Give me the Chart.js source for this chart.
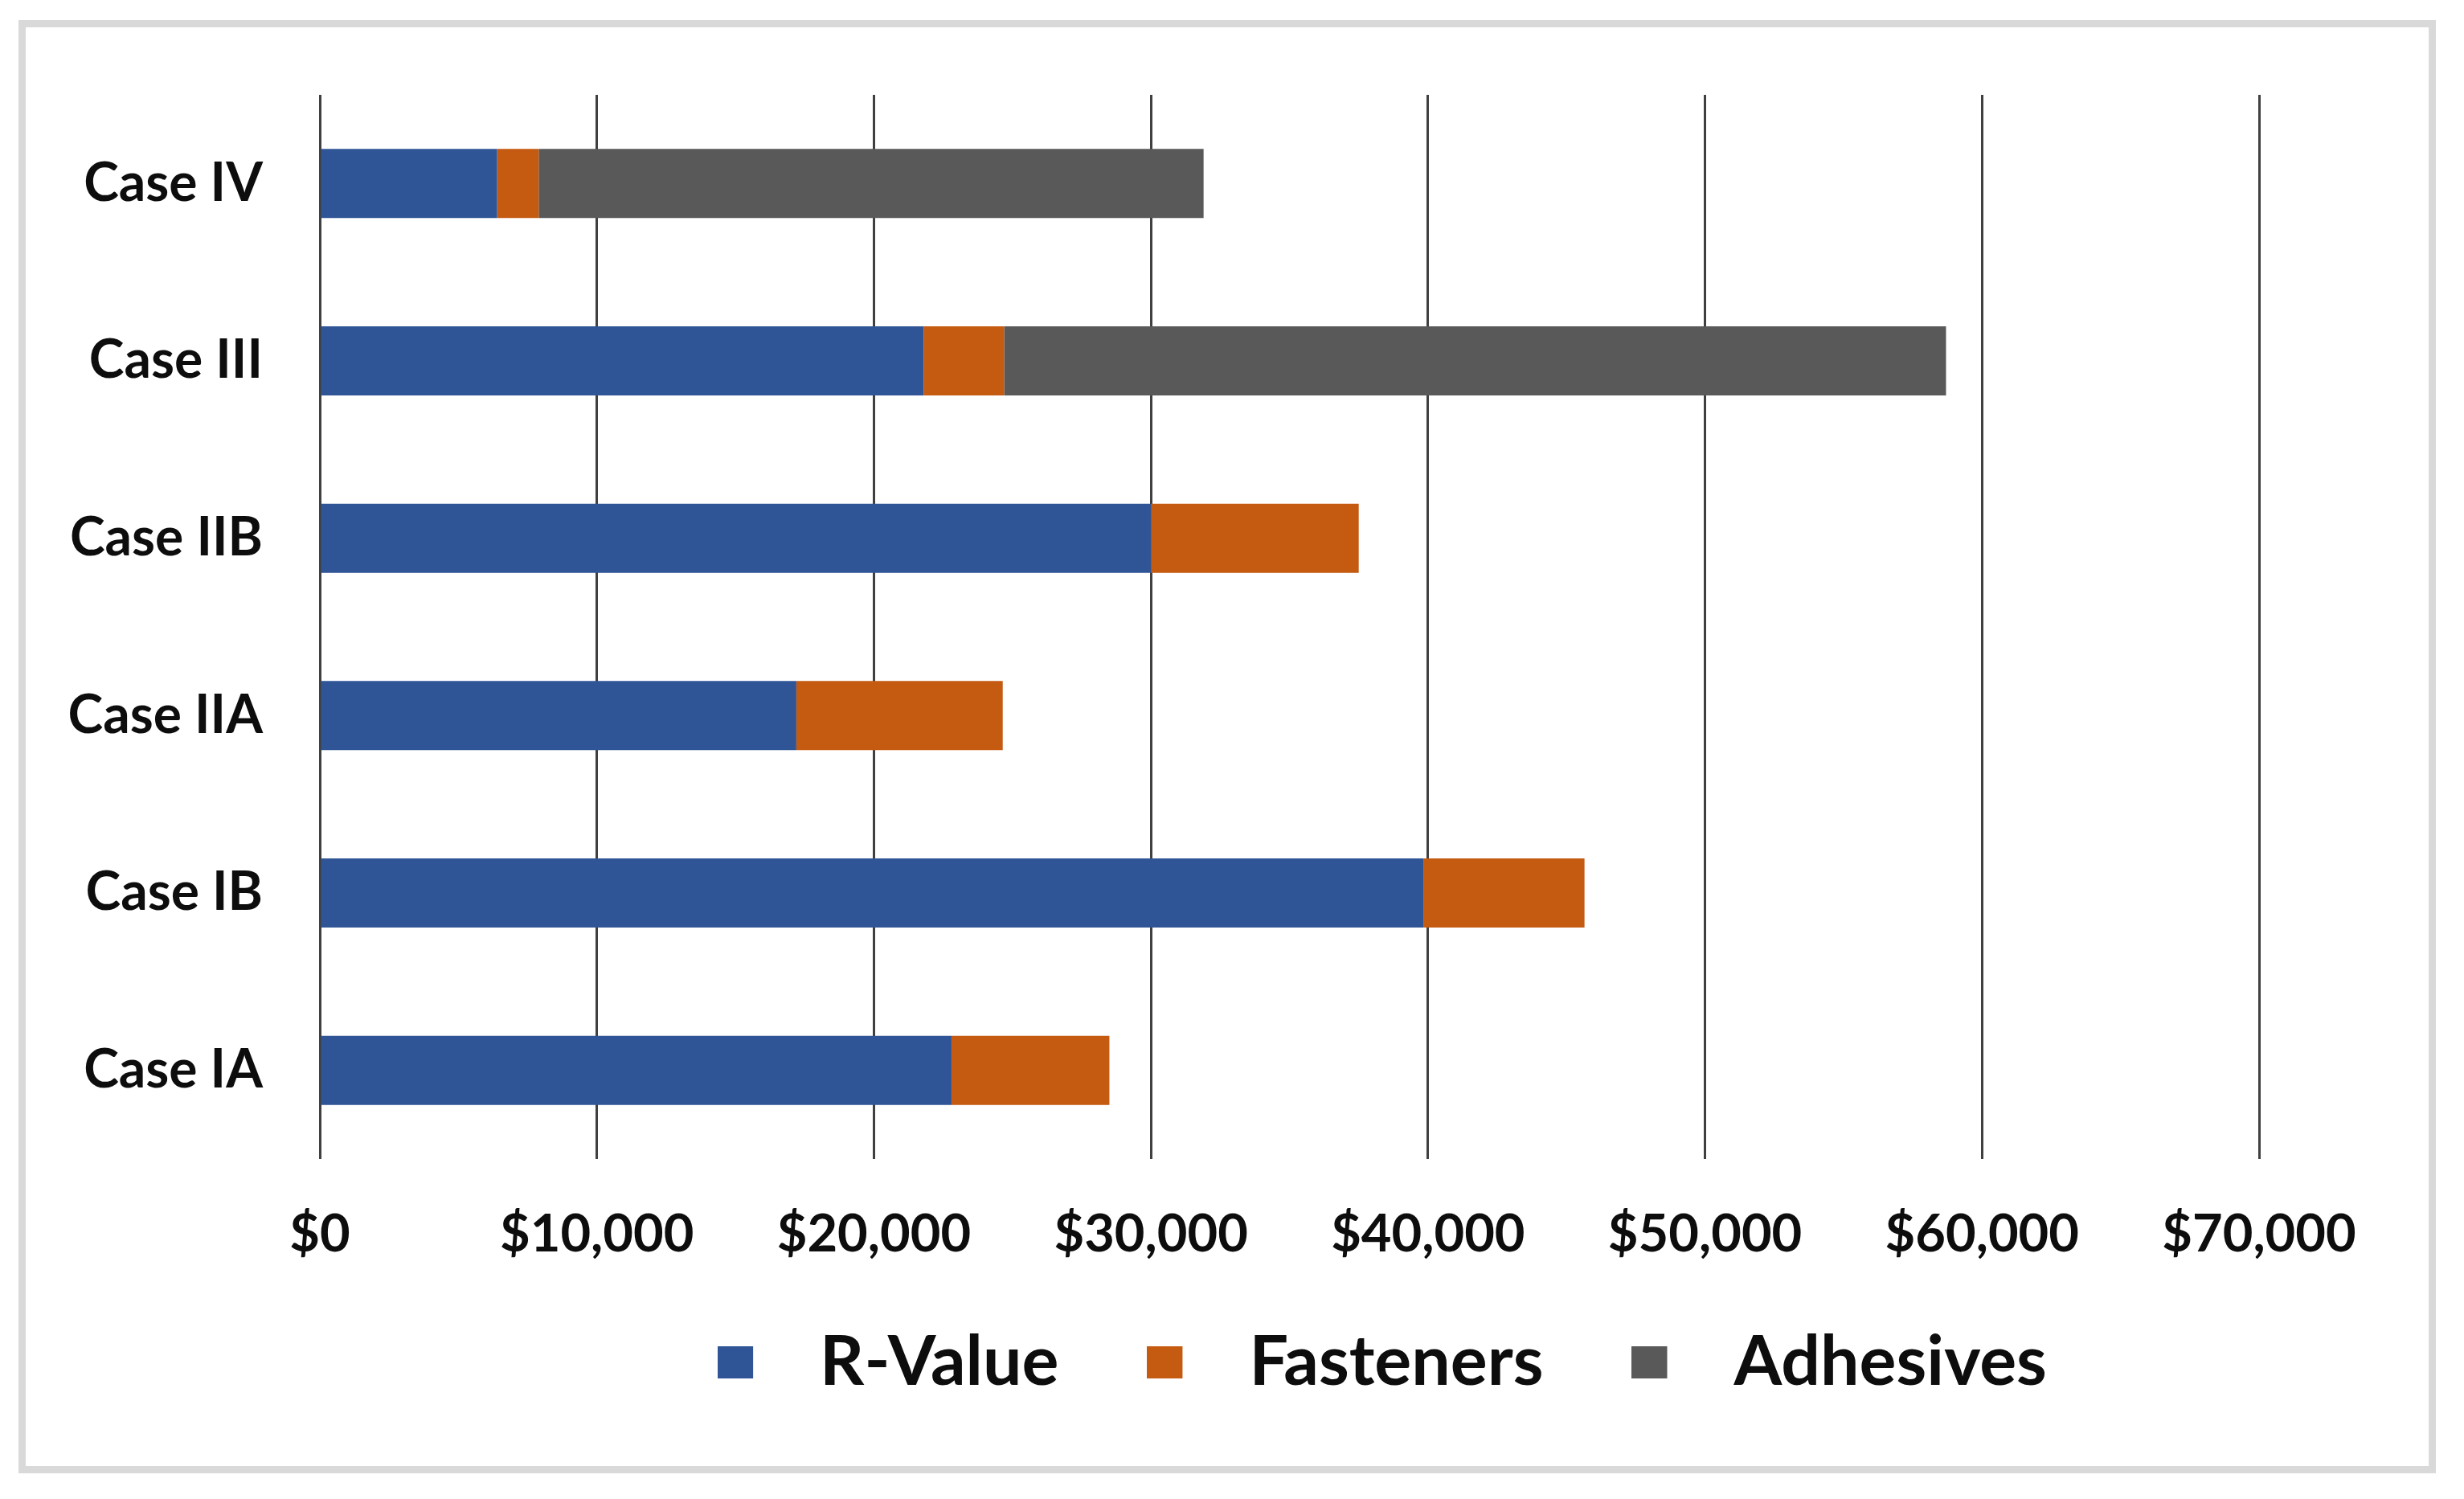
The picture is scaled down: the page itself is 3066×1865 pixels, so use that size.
<!DOCTYPE html>
<html>
<head>
<meta charset="utf-8">
<script src="https://cdn.jsdelivr.net/npm/chart.js@4/dist/chart.umd.min.js"></script>
<style>
  html, body { margin: 0; padding: 0; background: #fff; }
  #frame {
    position: absolute; left: 23px; top: 25px;
    width: 3008px; height: 1808px;
    box-sizing: border-box;
    border: 9px solid #d9d9d9;
    background: #fff;
  }
  #costChart { display: block; }
</style>
</head>
<body>
<div id="frame">
  <canvas id="costChart" width="2990" height="1790"></canvas>
</div>
<script>
// cases, bottom to top
const cases = ["Case IA", "Case IB", "Case IIA", "Case IIB", "Case III", "Case IV"]
const rValue = [22800, 39850, 17200, 30000, 21800, 6400]
const fasteners = [5700, 5800, 7450, 7500, 2900, 1500]
const adhesives = [null, null, null, null, 34000, 24000]

const xMin = 0
const xMax = 70000
const xStep = 10000

const money = v => "$" + Number(v).toLocaleString("en-US")

const legendFont = 86
const legendGap = 110
const swatchW = 84   // 44px square + empty space before the text

// legend square with some blank room after it (Excel puts the text further away)
const swatch = color => {
    const c = document.createElement("canvas")
    c.width = swatchW
    c.height = 40
    const g = c.getContext("2d")
    g.fillStyle = color
    g.fillRect(0, 0, 44, 40)
    return c
}

// legend padding is also used vertically, so put the row back where it belongs
// and move it right a bit like the original
const legendShift = {
    id: "legendShift",
    afterLayout(chart) {
        const lg = chart.legend
        const dx = 1688 - (lg.left + lg.right) / 2
        lg.left += dx
        lg.right += dx
        lg.top = 1661 - legendGap - legendFont / 2
        lg.bottom = chart.height
    }
}

new Chart("costChart", {
    type: "bar",
    data: {
        labels: cases,
        datasets: [
            {label: "R-Value", data: rValue, backgroundColor: "#2F5597"},
            {label: "Fasteners", data: fasteners, backgroundColor: "#C55A11"},
            {label: "Adhesives", data: adhesives, backgroundColor: "#595959"}
        ]
    },
    options: {
        indexAxis: "y",
        responsive: false,
        animation: false,
        devicePixelRatio: 1,
        datasets: {bar: {categoryPercentage: 1, barPercentage: 0.39}},
        layout: {padding: {left: 0, right: 211, top: 84, bottom: 70}},
        scales: {
            x: {
                stacked: true,
                min: xMin,
                max: xMax,
                afterFit: s => { s.height = 190 },
                ticks: {
                    stepSize: xStep,
                    padding: 55,
                    color: "#0d0d0d",
                    font: {family: "Lato", weight: "bold", size: 65},
                    callback: v => money(v)
                },
                grid: {color: "#404040", lineWidth: 3, drawTicks: false},
                border: {display: false}
            },
            y: {
                stacked: true,
                reverse: true,
                afterFit: s => {
                    s.width = 366
                    s.paddingTop = 0
                    s.paddingBottom = 0
                },
                ticks: {
                    padding: 71,
                    color: "#0d0d0d",
                    font: {family: "Lato", weight: "bold", size: 66}
                },
                grid: {display: false, drawTicks: false},
                border: {display: false}
            }
        },
        plugins: {
            legend: {
                position: "bottom",
                fullSize: false,
                maxHeight: 122,
                labels: {
                    usePointStyle: true,
                    pointStyleWidth: swatchW,
                    boxHeight: 40,
                    padding: legendGap,
                    color: "#0d0d0d",
                    font: {family: "Lato", weight: "bold", size: legendFont},
                    generateLabels: chart => {
                        const items = Chart.defaults.plugins.legend.labels.generateLabels(chart)
                        items.forEach(it => { it.pointStyle = swatch(it.fillStyle) })
                        return items
                    }
                }
            },
            tooltip: {enabled: false}
        }
    },
    plugins: [legendShift]
})
</script>
</body>
</html>
